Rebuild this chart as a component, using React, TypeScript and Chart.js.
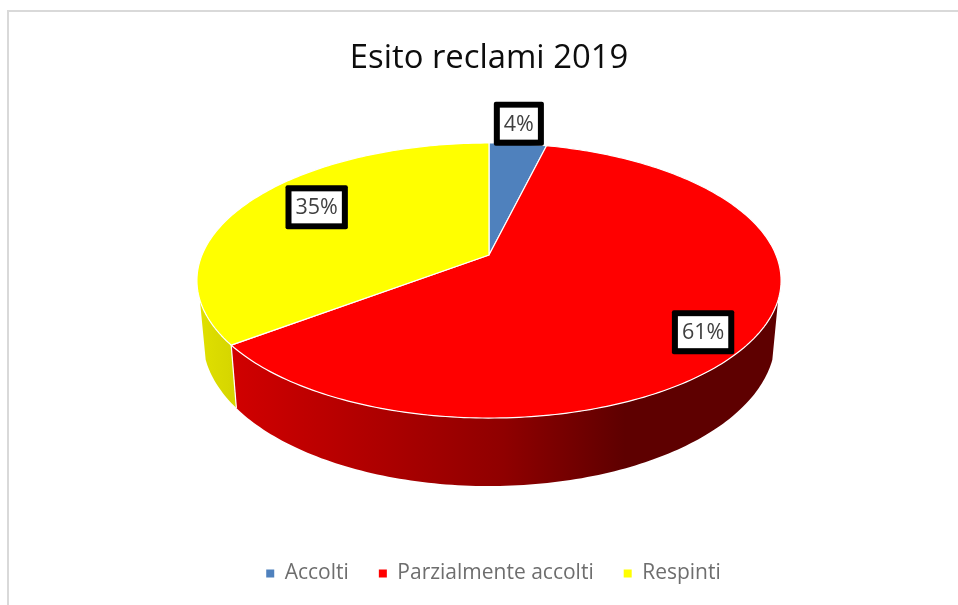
import React, { useEffect, useRef } from "react";
import { Chart, registerables } from "chart.js";

Chart.register(...registerables);

const titleText = "Esito reclami 2019";
const categories = ["Accolti", "Parzialmente accolti", "Respinti"];
const values = [3.8, 60.9, 35.3];
const sliceColors = ["#4f81bd", "#ff0000", "#ffff00"];

// Projection of the flat pie on to a tilted disc with a perspective
const view = { apexY: 255, radius: 287, depth: 132.8, persp: 0.1855 };
const base = { apexY: 311.6, scaleX: 0.98, scaleY: 1.07 };
const wallFrom = (108.6 * Math.PI) / 180;
const wallTo = (251.4 * Math.PI) / 180;
const wallShade = [
  [[0, 0.88], [1, 0.84]],
  [[0, 0.82], [0.5, 0.56], [0.72, 0.37], [1, 0.37]],
];
// label placement relative to the rim at the mid-angle
const labelShift = [[1, -20], [-53, -4], [65, 7]];
const legendShift = 4.5;

function shade(hex: string, f: number) {
  const n = parseInt(hex.slice(1), 16);
  const r = Math.round(((n >> 16) & 255) * f);
  const g = Math.round(((n >> 8) & 255) * f);
  const b = Math.round((n & 255) * f);
  return `rgb(${r},${g},${b})`;
}

const pie3d = {
  id: "pie3d",
  afterLayout(chart: any) {
    chart.legend.left += legendShift;
    chart.legend.right += legendShift;
  },
  beforeDatasetDraw(chart: any) {
    const ctx = chart.ctx as CanvasRenderingContext2D;
    const arcs = chart.getDatasetMeta(0).data as any[];
    const cx = arcs[0].x;
    const top = (t: number) => {
      const w = 1 + view.persp * Math.cos(t);
      return [cx + (view.radius * Math.sin(t)) / w, view.apexY - (view.depth * Math.cos(t)) / w];
    };
    const bottom = (t: number) => {
      const w = 1 + view.persp * Math.cos(t);
      return [
        cx + (base.scaleX * view.radius * Math.sin(t)) / w,
        base.apexY - (base.scaleY * view.depth * Math.cos(t)) / w,
      ];
    };
    const angle = (a: number) => a + Math.PI / 2;
    const samples = (a: number, b: number) => {
      const out: number[] = [];
      const n = Math.max(2, Math.ceil(((b - a) * 180) / Math.PI));
      for (let i = 0; i <= n; i++) out.push(a + ((b - a) * i) / n);
      return out;
    };
    ctx.save();
    // side wall
    arcs.forEach((arc, i) => {
      const a = Math.max(angle(arc.startAngle), wallFrom);
      const b = Math.min(angle(arc.endAngle), wallTo);
      if (b <= a) return;
      const ts = samples(a, b);
      const span = ts.map((t) => top(t)[0]);
      const x0 = Math.min(...span);
      const x1 = Math.max(...span);
      const grad = ctx.createLinearGradient(x0, 0, x1, 0);
      const stops = wallShade[i - 2 < 0 ? 1 : 0];
      stops.forEach(([p, f]) => grad.addColorStop(p, shade(arc.options.backgroundColor, f)));
      ctx.beginPath();
      ts.forEach((t, k) => {
        const [x, y] = top(t);
        if (k === 0) ctx.moveTo(x, y);
        else ctx.lineTo(x, y);
      });
      [...ts].reverse().forEach((t) => {
        const [x, y] = bottom(t);
        ctx.lineTo(x, y);
      });
      ctx.closePath();
      ctx.fillStyle = grad;
      ctx.fill();
    });
    // edge between the walls
    arcs.forEach((arc) => {
      const t = angle(arc.startAngle);
      if (t <= wallFrom || t >= wallTo) return;
      const [x, y] = top(t);
      const [u, v] = bottom(t);
      ctx.beginPath();
      ctx.moveTo(x, y);
      ctx.lineTo(u, v);
      ctx.strokeStyle = "#ffffff";
      ctx.lineWidth = 1.2;
      ctx.stroke();
    });
    // top face
    arcs.forEach((arc) => {
      ctx.beginPath();
      ctx.moveTo(cx, view.apexY);
      samples(angle(arc.startAngle), angle(arc.endAngle)).forEach((t) => {
        const [x, y] = top(t);
        ctx.lineTo(x, y);
      });
      ctx.closePath();
      ctx.fillStyle = arc.options.backgroundColor;
      ctx.fill();
      ctx.strokeStyle = "#ffffff";
      ctx.lineWidth = 1.2;
      ctx.lineJoin = "round";
      ctx.stroke();
    });
    // data labels
    ctx.font = "21.5px 'Open Sans'";
    ctx.textAlign = "center";
    ctx.textBaseline = "middle";
    arcs.forEach((arc, i) => {
      const [x, y] = top(angle((arc.startAngle + arc.endAngle) / 2));
      const lx = x + labelShift[i][0];
      const ly = y + labelShift[i][1];
      const text = `${Math.round(values[i])}%`;
      const w = ctx.measureText(text).width + 8;
      const h = 32;
      ctx.beginPath();
      ctx.roundRect(lx - w / 2 - 6, ly - h / 2 - 6, w + 12, h + 12, 2);
      ctx.fillStyle = "#000000";
      ctx.fill();
      ctx.fillStyle = "#ffffff";
      ctx.fillRect(lx - w / 2, ly - h / 2, w, h);
      ctx.fillStyle = "#404040";
      ctx.fillText(text, lx, ly + 1);
    });
    ctx.restore();
    return false;
  },
};

export default function App() {
  const ref = useRef<HTMLCanvasElement>(null);
  useEffect(() => {
    const chart = new Chart(ref.current!, {
      type: "pie",
      data: {
        labels: categories,
        datasets: [{ data: values, backgroundColor: sliceColors, borderWidth: 0 }],
      },
      options: {
        animation: false,
        responsive: false,
        layout: { padding: { left: 20, top: 34, bottom: 11 } },
        plugins: {
          title: {
            display: true,
            text: titleText,
            color: "#0d0d0d",
            font: { family: "'Open Sans'", size: 32.8, weight: "normal" },
            padding: { top: 5, bottom: 10 },
          },
          legend: {
            position: "bottom",
            labels: {
              boxWidth: 8,
              boxHeight: 8,
              padding: 30,
              color: "#6e6e6e",
              font: { family: "'Open Sans'", size: 21 },
            },
          },
          tooltip: { enabled: false },
        },
      },
      plugins: [pie3d],
    } as any);
    return () => chart.destroy();
  }, []);
  return (
    <div style={{ position: "fixed", left: 0, top: 0, width: 958, height: 605, background: "#ffffff", overflow: "hidden" }}>
      <div style={{ position: "absolute", left: 7, top: 10, right: -5, bottom: -5, borderLeft: "2px solid #d9d9d9", borderTop: "2px solid #d9d9d9" }} />
      <canvas ref={ref} width={958} height={605} style={{ position: "absolute", left: 0, top: 0, display: "block" }} />
    </div>
  );
}
